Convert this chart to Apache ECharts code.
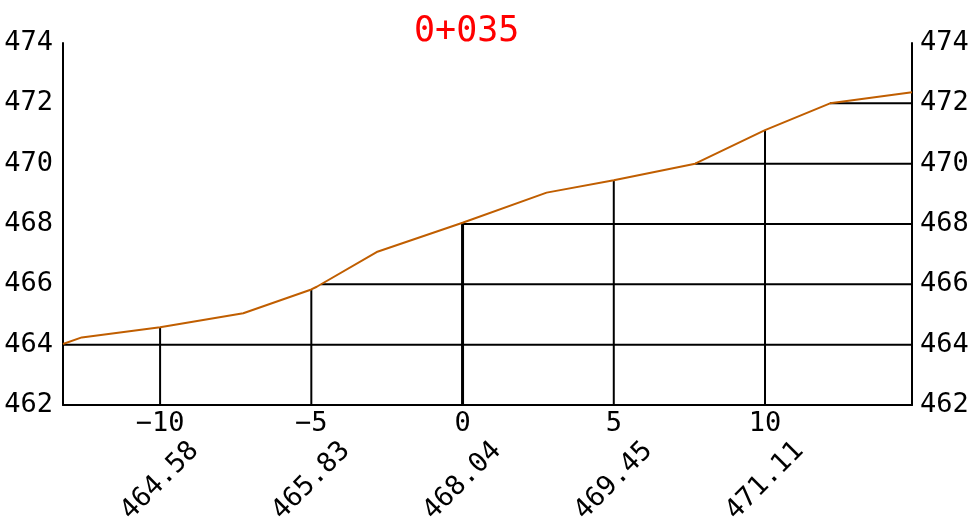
<!DOCTYPE html>
<html>
<head>
<meta charset="utf-8">
<script src="https://cdn.jsdelivr.net/npm/echarts@6/dist/echarts.min.js"></script>
<style>
html,body{margin:0;padding:0;background:#fff;}
#chart{width:976px;height:523px;}
</style>
</head>
<body>
<div id="chart"></div>
<script>
// ---- data ----
const titleText = '0+035';
const profileX = [-13.21, -12.59, -10, -7.25, -5, -4.82, -2.84, 0, 2.78, 5, 7.69, 10, 12.15, 14.86];
const profileY = [464.02, 464.24, 464.58, 465.04, 465.83, 465.92, 467.07, 468.04, 469.04, 469.45, 470.0, 471.11, 472.0, 472.37];
const stations = [-10, -5, 0, 5, 10];
const stationElev = [464.58, 465.83, 468.04, 469.45, 471.11];
const stationLabels = ['464.58', '465.83', '468.04', '469.45', '471.11'];
const levelY = [464, 466, 468, 470, 472];
const levelStartX = [-13.21, -4.68, 0, 7.69, 12.15];
const xMin = -13.21, xMax = 14.86;
const yMin = 462, yMax = 474, yStep = 2;

const FONT = '"DejaVu Sans Mono", monospace';
const chart = echarts.init(document.getElementById('chart'));

const series = [];
levelY.forEach((lv, i) => {
  series.push({
    type: 'line', symbol: 'none', silent: true, z: 2,
    lineStyle: {color: '#000', width: 2},
    data: [[levelStartX[i], lv], [xMax, lv]]
  });
});
stations.forEach((s, i) => {
  series.push({
    type: 'line', symbol: 'none', silent: true, z: 2,
    lineStyle: {color: '#000', width: s === 0 ? 3 : 2},
    data: [[s, yMin], [s, stationElev[i]]]
  });
});
series.push({
  type: 'line', symbol: 'none', silent: true, z: 5,
  lineStyle: {color: '#c05e00', width: 2},
  data: profileX.map((x, i) => [x, profileY[i]])
});

const yAxisCommon = {
  type: 'value', min: yMin, max: yMax, interval: yStep,
  splitLine: {show: false}, axisTick: {show: false},
  axisLine: {show: true, onZero: false, lineStyle: {color: '#000', width: 2}},
};

chart.setOption({
  animation: false,
  backgroundColor: '#fff',
  title: {
    text: titleText, left: 409, top: 9,
    textStyle: {color: '#ff0000', fontFamily: FONT, fontSize: 35, fontWeight: 'normal'}
  },
  grid: {left: 63, right: 64, top: 43, bottom: 118, containLabel: false, outerBoundsMode: 'none'},
  xAxis: [
    {
      type: 'value', min: xMin, max: xMax, position: 'bottom',
      splitLine: {show: false}, axisTick: {show: false},
      axisLine: {show: true, onZero: false, lineStyle: {color: '#000', width: 2}},
      axisLabel: {
        customValues: stations, margin: 5,
        color: '#000', fontFamily: FONT, fontSize: 27,
        formatter: v => (v < 0 ? '\u2212' + Math.abs(v) : String(v))
      }
    },
    {
      type: 'value', min: xMin, max: xMax, position: 'bottom',
      splitLine: {show: false}, axisTick: {show: false},
      axisLine: {show: false, onZero: false},
      axisLabel: {
        customValues: stations, margin: 76, rotate: 45,
        align: 'center', verticalAlign: 'middle', hideOverlap: false,
        color: '#000', fontFamily: FONT, fontSize: 27,
        formatter: v => {
          const i = stations.indexOf(v);
          return i >= 0 ? stationLabels[i] : '';
        }
      }
    }
  ],
  yAxis: [
    Object.assign({}, yAxisCommon, {position: 'left',
      axisLabel: {margin: 10, color: '#000', fontFamily: FONT, fontSize: 27}}),
    Object.assign({}, yAxisCommon, {position: 'right',
      axisLabel: {margin: 8, color: '#000', fontFamily: FONT, fontSize: 27}})
  ],
  series: series
});
</script>
</body>
</html>
